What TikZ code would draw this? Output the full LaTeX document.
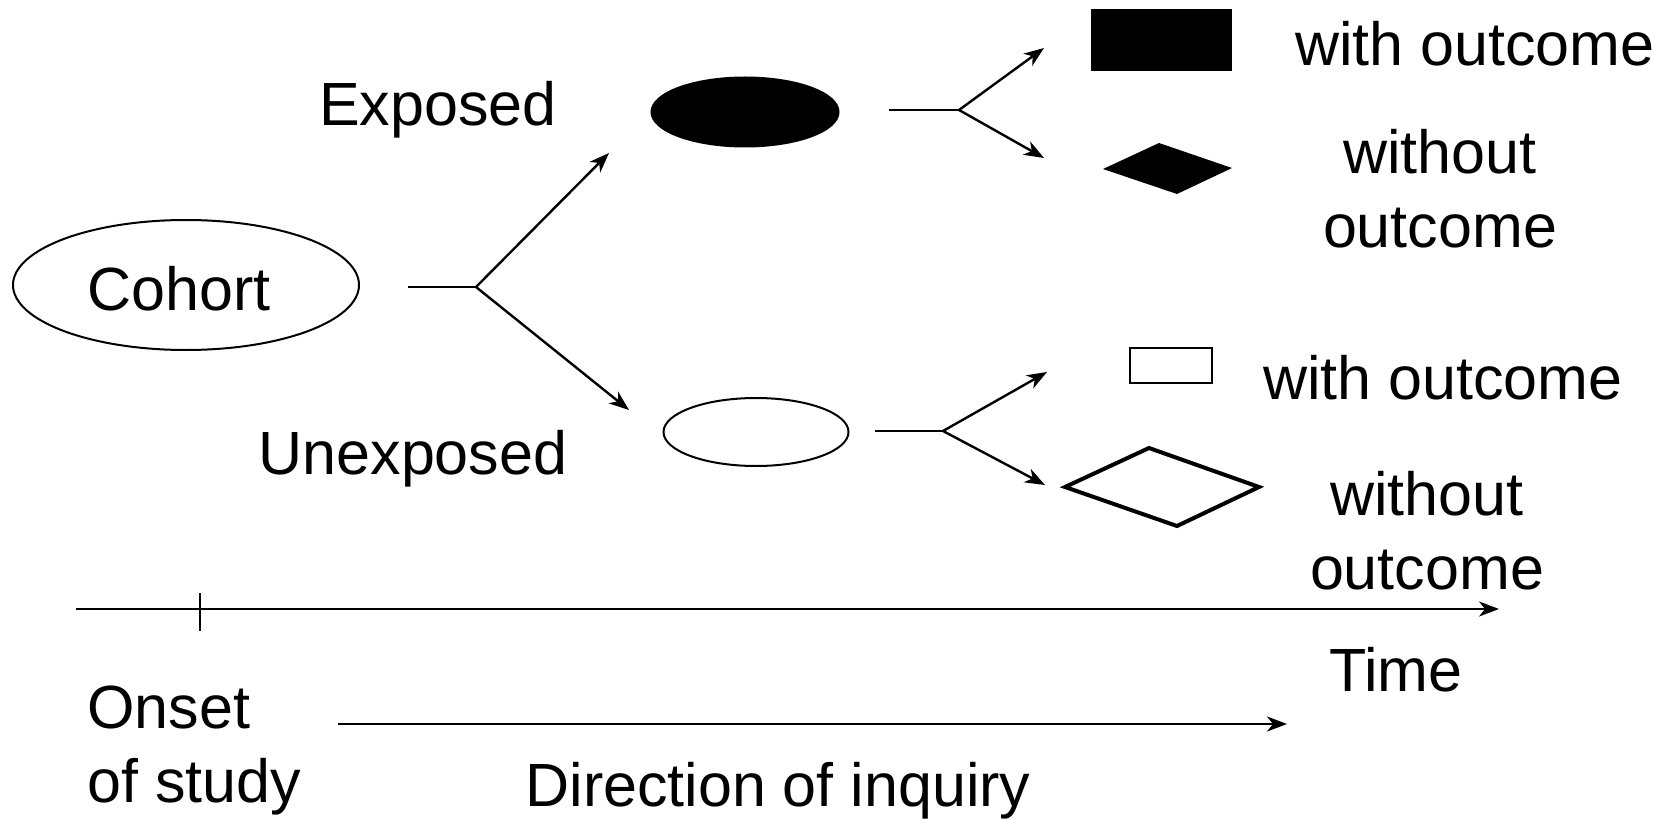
\documentclass[tikz,border=0pt]{standalone}
\usepackage{fontspec}
\setmainfont{Liberation Sans}
\usetikzlibrary{arrows.meta,shapes.geometric}
\begin{document}
\begin{tikzpicture}[x=0.5pt,y=-0.5pt,
  lbl/.style={font=\fontsize{30.5}{37}\selectfont, inner sep=0pt},
  conn/.style={line width=1.2pt},
  arr/.style={conn, -{Stealth[length=10pt,width=7.5pt,inset=3pt]}},
  oval/.style={ellipse, draw, line width=1pt, inner sep=0pt}]
\useasboundingbox (0,0) rectangle (1668,818);

% cohort and the two exposure groups
\node[oval, minimum width=173pt, minimum height=65pt] (cohort) at (186,285) {};
\node[lbl] (cohortlbl) at (179,289) {Cohort};
\node[oval, fill=black, minimum width=93.5pt, minimum height=34.5pt] (exp) at (745,112) {};
\node[oval, minimum width=92.5pt, minimum height=34pt] (unexp) at (756,432) {};
\node[lbl] (explbl) at (438,110) {Exposed};
\node[lbl] (unexplbl) at (413,459) {Unexposed};

% branching from the cohort
\coordinate (c0) at (408,287);
\coordinate (c1) at (476,287);
\coordinate (c2) at (609,153);
\coordinate (c3) at (629,410);
\draw[conn] (c0) -- (c1);
\draw[arr] (c1) -- (c2);
\draw[arr] (c1) -- (c3);

% branching from the exposed group
\coordinate (e0) at (889,110);
\coordinate (e1) at (959,110);
\coordinate (e2) at (1044,48);
\coordinate (e3) at (1044,158);
\draw[conn] (e0) -- (e1);
\draw[arr] (e1) -- (e2);
\draw[arr] (e1) -- (e3);

% branching from the unexposed group
\coordinate (u0) at (875,431);
\coordinate (u1) at (943,431);
\coordinate (u2) at (1047,372);
\coordinate (u3) at (1045,485);
\draw[conn] (u0) -- (u1);
\draw[arr] (u1) -- (u2);
\draw[arr] (u1) -- (u3);

% outcome symbols
\fill (1091,9) rectangle (1232,71);
\fill (1103,169) -- (1159,143) -- (1232,168) -- (1177,194) -- cycle;
\draw[line width=1pt] (1130,348) rectangle (1212,383);
\draw[line width=2pt, line join=miter] (1065,487) -- (1149,448) -- (1259,487) -- (1177,526) -- cycle;

% outcome labels
\node[lbl] (wo1) at (1475,44) {with outcome};
\node[lbl, align=center] (wn1) at (1440,189) {without\\outcome};
\node[lbl] (wo2) at (1443,378) {with outcome};
\node[lbl, align=center] (wn2) at (1427,531) {without\\outcome};

% time axis
\coordinate (t0) at (76,609);
\coordinate (t1) at (1499,609);
\coordinate (k0) at (200,593);
\coordinate (k1) at (200,631);
\draw[arr] (t0) -- (t1);
\draw[conn] (k0) -- (k1);
\node[lbl] (time) at (1396,670) {Time};

% direction of inquiry
\coordinate (d0) at (338,724);
\coordinate (d1) at (1287,724);
\draw[arr] (d0) -- (d1);
\node[lbl, align=left, anchor=west] (onset) at (87,751) {Onset\\of study};
\node[lbl] (dir) at (778,791) {Direction of inquiry};
\end{tikzpicture}
\end{document}
